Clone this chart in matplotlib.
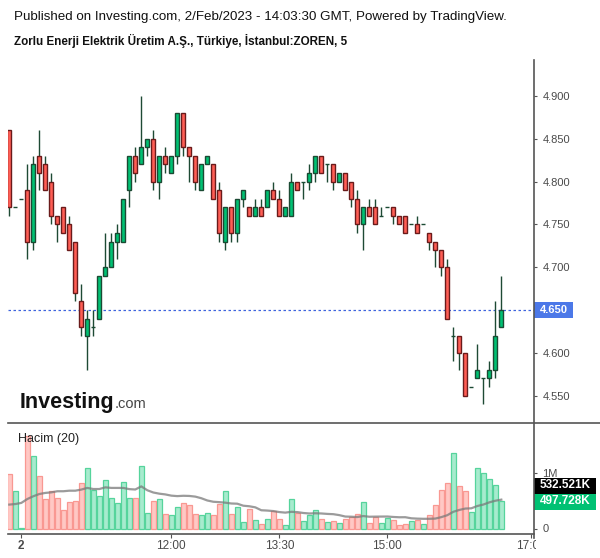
import numpy as np
import pandas as pd
import matplotlib
matplotlib.use("Agg")
import matplotlib.pyplot as plt
from matplotlib.patches import Rectangle
from matplotlib.transforms import blended_transform_factory, Bbox, TransformedBbox

plt.rcParams['font.family'] = ['Liberation Sans', 'DejaVu Sans']

# ---------------- data ----------------
opens = [4.86, 4.77, 4.78, 4.79, 4.73, 4.83, 4.82, 4.80, 4.76, 4.77,
         4.75, 4.73, 4.66, 4.62, 4.63, 4.64, 4.69, 4.70, 4.73, 4.73,
         4.79, 4.83, 4.82, 4.84, 4.85, 4.80, 4.83, 4.81, 4.83, 4.88,
         4.84, 4.83, 4.79, 4.82, 4.82, 4.79, 4.73, 4.77, 4.74, 4.78,
         4.77, 4.76, 4.77, 4.77, 4.79, 4.78, 4.76, 4.76, 4.80, 4.80,
         4.80, 4.81, 4.83, 4.82, 4.82, 4.80, 4.81, 4.80, 4.78, 4.75,
         4.77, 4.77, 4.76, 4.77, 4.77, 4.76, 4.76, 4.75, 4.75, 4.75,
         4.74, 4.73, 4.72, 4.70, 4.62, 4.62, 4.60, 4.56, 4.57, 4.57,
         4.57, 4.58, 4.63]
highs = [4.86, 4.77, 4.78, 4.82, 4.83, 4.86, 4.83, 4.81, 4.76, 4.77,
         4.76, 4.73, 4.68, 4.65, 4.65, 4.69, 4.74, 4.74, 4.75, 4.78,
         4.83, 4.84, 4.90, 4.85, 4.86, 4.83, 4.84, 4.83, 4.88, 4.88,
         4.84, 4.83, 4.82, 4.83, 4.82, 4.80, 4.77, 4.77, 4.78, 4.79,
         4.77, 4.78, 4.78, 4.79, 4.80, 4.79, 4.77, 4.81, 4.80, 4.80,
         4.82, 4.83, 4.83, 4.82, 4.82, 4.81, 4.81, 4.80, 4.79, 4.77,
         4.78, 4.78, 4.77, 4.77, 4.77, 4.76, 4.76, 4.75, 4.76, 4.75,
         4.74, 4.73, 4.72, 4.71, 4.63, 4.62, 4.60, 4.56, 4.61, 4.57,
         4.59, 4.66, 4.69]
lows = [4.76, 4.77, 4.78, 4.71, 4.72, 4.79, 4.79, 4.75, 4.73, 4.74,
        4.72, 4.66, 4.62, 4.58, 4.62, 4.64, 4.69, 4.70, 4.71, 4.73,
        4.77, 4.80, 4.82, 4.83, 4.79, 4.78, 4.81, 4.81, 4.82, 4.83,
        4.80, 4.79, 4.79, 4.82, 4.78, 4.73, 4.72, 4.73, 4.73, 4.77,
        4.76, 4.76, 4.76, 4.77, 4.78, 4.76, 4.76, 4.76, 4.79, 4.78,
        4.79, 4.80, 4.81, 4.80, 4.79, 4.80, 4.79, 4.77, 4.74, 4.72,
        4.76, 4.75, 4.76, 4.77, 4.75, 4.75, 4.74, 4.75, 4.74, 4.75,
        4.72, 4.70, 4.69, 4.64, 4.59, 4.58, 4.55, 4.56, 4.57, 4.54,
        4.56, 4.57, 4.63]
closes = [4.77, 4.77, 4.78, 4.73, 4.82, 4.81, 4.79, 4.76, 4.75, 4.74,
          4.72, 4.67, 4.63, 4.64, 4.63, 4.69, 4.70, 4.73, 4.74, 4.78,
          4.83, 4.81, 4.84, 4.85, 4.80, 4.83, 4.82, 4.83, 4.88, 4.84,
          4.83, 4.80, 4.82, 4.83, 4.78, 4.74, 4.77, 4.74, 4.78, 4.79,
          4.76, 4.77, 4.76, 4.79, 4.78, 4.76, 4.77, 4.80, 4.79, 4.80,
          4.81, 4.83, 4.81, 4.82, 4.80, 4.81, 4.79, 4.78, 4.75, 4.77,
          4.76, 4.75, 4.76, 4.77, 4.76, 4.75, 4.74, 4.75, 4.74, 4.75,
          4.73, 4.72, 4.70, 4.64, 4.62, 4.60, 4.55, 4.56, 4.58, 4.57,
          4.58, 4.62, 4.65]
# volume in millions
volumes = [0.98, 0.68, 0.01, 1.67, 1.31, 0.95, 0.53, 0.68, 0.55, 0.34,
           0.48, 0.50, 0.82, 1.09, 0.70, 0.58, 0.87, 0.55, 0.46, 0.84,
           0.55, 0.55, 1.13, 0.28, 0.50, 0.53, 0.26, 0.24, 0.38, 0.46,
           0.42, 0.26, 0.24, 0.28, 0.24, 0.44, 0.68, 0.26, 0.38, 0.12,
           0.35, 0.16, 0.08, 0.17, 0.32, 0.17, 0.06, 0.53, 0.28, 0.14,
           0.24, 0.34, 0.17, 0.12, 0.14, 0.10, 0.17, 0.20, 0.26, 0.48,
           0.10, 0.20, 0.10, 0.19, 0.16, 0.06, 0.08, 0.14, 0.16, 0.08,
           0.24, 0.42, 0.69, 0.82, 1.36, 0.76, 0.67, 0.29, 1.09, 1.00,
           0.89, 0.78, 0.4977]
# MA(20) of volume for the first 19 bars (uses earlier, unseen bars)
ma_head = [0.43, 0.44, 0.46, 0.53, 0.58, 0.62, 0.64, 0.65, 0.67, 0.67,
           0.68, 0.68, 0.70, 0.73, 0.71, 0.71, 0.74, 0.73, 0.73]
ma_last_label = "532.521K"
vol_last_label = "497.728K"
x_tick_idx = [2, 27, 45, 63, 87]
x_tick_labels = ["2", "12:00", "13:30", "15:00", "17:00"]
price_ticks = [4.55, 4.60, 4.65, 4.70, 4.75, 4.80, 4.85, 4.90]
current_price = 4.65

header = "Published on Investing.com, 2/Feb/2023 - 14:03:30 GMT, Powered by TradingView."
title = "Zorlu Enerji Elektrik Üretim A.Ş., Türkiye, İstanbul:ZOREN, 5"

# ---------------- style ----------------
W, H = 600, 558
GREEN = '#00c173'
RED = '#ff5e55'
GREEN_EDGE = '#1b4a33'
RED_EDGE = '#6a1b1b'
WICK = '#1e4a34'
VG_FILL, VG_EDGE = '#a7ebce', '#56d49c'
VR_FILL, VR_EDGE = '#ffc8c4', '#f99892'
AXC = '#555555'
TXT = '#4a4a4a'

fig = plt.figure(figsize=(W / 100, H / 100), dpi=100)
fig.patch.set_facecolor('white')

def px_rect(l, t, r, b):
    return [l / W, (H - b) / H, (r - l) / W, (b - t) / H]

PL, PR = 8, 534
ax = fig.add_axes(px_rect(PL, 60, PR, 423))
axv = fig.add_axes(px_rect(PL, 423, PR, 534))

n = len(opens)
idx = np.arange(n)
o = np.array(opens); c = np.array(closes); hi = np.array(highs); lo = np.array(lows)
up = c >= o

x0 = (PL - 9.3) / 6.0
x1 = (PR - 9.3) / 6.0
for a in (ax, axv):
    a.set_xlim(x0, x1)
    for s in a.spines.values():
        s.set_visible(False)
    a.set_facecolor('none')

# price pane
ax.set_ylim(4.9 - 327 / 856, 4.9 + 36 / 856)
ax.vlines(idx, lo, hi, color=WICK, linewidth=1.0, zorder=2)
bw = 0.7
body_h = np.abs(c - o)
bottoms = np.minimum(o, c)
ax.bar(idx[up], body_h[up], bottom=bottoms[up], width=bw, color=GREEN,
       edgecolor=GREEN_EDGE, linewidth=1.0, zorder=3)
ax.bar(idx[~up], body_h[~up], bottom=bottoms[~up], width=bw, color=RED,
       edgecolor=RED_EDGE, linewidth=1.0, zorder=3)
ax.axhline(current_price, color='#3d63dd', linestyle=(0, (2, 2)), linewidth=0.9, zorder=1)

ax.yaxis.tick_right()
ax.set_yticks(price_ticks)
# the tick at the current price is covered by the price label box
ax.set_yticklabels(["" if abs(v - current_price) < 1e-9 else f"{v:.3f}" for v in price_ticks])
ax.tick_params(axis='y', length=2.5, width=0.8, color=AXC, labelcolor=TXT,
               labelsize=8, pad=3.5, direction='out')
ax.set_xticks([])

# current price label
bt = blended_transform_factory(fig.transFigure, ax.transData)
hh = 8 / 856
ax.add_patch(Rectangle((PR / W, current_price - hh), 39 / W, 2 * hh, transform=bt,
                       facecolor='#4c78e8', edgecolor='none', clip_on=False, zorder=5))
ax.text((PR + 19.5) / W, current_price, f"{current_price:.3f}", transform=bt,
        ha='center', va='center', color='white', fontsize=8, fontweight='bold',
        clip_on=False, zorder=6)

# volume pane
vol = np.array(volumes)
axv.set_ylim(-5.5 / 55.6, 105.5 / 55.6)
axv.bar(idx[up], vol[up], width=0.83, color=VG_FILL, edgecolor=VG_EDGE, linewidth=0.9)
axv.bar(idx[~up], vol[~up], width=0.83, color=VR_FILL, edgecolor=VR_EDGE, linewidth=0.9)
ma = pd.Series(vol).rolling(20).mean().to_numpy()
ma[:len(ma_head)] = ma_head
axv.plot(idx, ma, color='#7a7a7a', alpha=0.75, linewidth=1.6, zorder=4)
axv.yaxis.tick_right()
axv.set_yticks([0, 1])
axv.set_yticklabels(["0", "1M"])
axv.tick_params(axis='y', length=2.5, width=0.8, color=AXC, labelcolor=TXT,
                labelsize=8, pad=3.5, direction='out')
axv.set_xticks(x_tick_idx)
axv.set_xticklabels([])
axv.tick_params(axis='x', length=3, width=0.8, color=AXC, direction='out')

# volume value labels
for (lbl, fc, yc) in [(ma_last_label, 'black', 485.5), (vol_last_label, '#00c173', 501.5)]:
    fig.patches.append(Rectangle((PR / W, (H - yc - 8) / H), 62 / W, 16 / H,
                                 transform=fig.transFigure, facecolor=fc, edgecolor='none'))
    fig.text((PR + 31) / W, (H - yc) / H, lbl, ha='center', va='center', color='white',
             fontsize=8.5, fontweight='bold')

# lines: right axis, separator, bottom
fig.add_artist(plt.Line2D([PR / W, PR / W], [(H - 538) / H, (H - 60) / H],
                          transform=fig.transFigure, color=AXC, linewidth=1.2))
fig.add_artist(plt.Line2D([PL / W, 1.0], [(H - 423) / H, (H - 423) / H],
                          transform=fig.transFigure, color=AXC, linewidth=1.2))
fig.add_artist(plt.Line2D([PL / W, PR / W], [(H - 534) / H, (H - 534) / H],
                          transform=fig.transFigure, color=AXC, linewidth=1.2))

# x tick labels
clip = TransformedBbox(Bbox([[0, 0], [536 / W, 1]]), fig.transFigure)
for i, lab in zip(x_tick_idx, x_tick_labels):
    xp = 9.3 + 6.0 * i
    t = fig.text(xp / W, (H - 546) / H, lab, ha='center', va='center', color=TXT,
                 fontsize=8.5, fontweight='bold' if lab == "2" else 'normal')
    t.set_clip_box(clip)
    t.set_clip_on(True)

# texts
fig.text(14 / W, (H - 17) / H, header, ha='left', va='center', fontsize=9.6, color='#111111')
fig.text(14 / W, (H - 41) / H, title, ha='left', va='center', fontsize=8.4,
         fontweight='bold', color='#111111')
fig.text(18 / W, (H - 439) / H, "Hacim (20)", ha='left', va='center', fontsize=9,
         color='#222222')

# watermark logo
t1 = fig.text(20 / W, (H - 408) / H, "Investing", ha='left', va='baseline',
              fontsize=15.5, fontweight='bold', color='#111111')
fig.canvas.draw()
bb = t1.get_window_extent()
fig.text((bb.x1 + 0.5) / W, (H - 408) / H, ".com", ha='left', va='baseline',
         fontsize=10.5, color='#444444')

fig.savefig("out.png", dpi=100)
